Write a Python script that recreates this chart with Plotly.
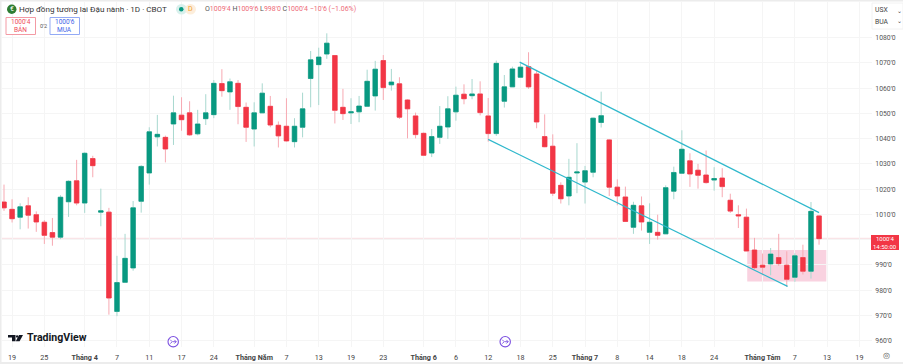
import plotly.graph_objects as go

opens = [1014.9,1012.0,1008.9,1013.4,1009.9,1006.9,1002.8,1001.0,1015.0,1023.3,1014.5,1032.1,1010.9,1010.9,971.6,983.1,988.8,1015.2,1026.4,1040.7,
         1040.5,1045.8,1049.3,1050.2,1041.9,1047.9,1049.5,1061.8,1058.5,1061.9,1052.4,1043.8,1050.2,1052.8,1045.3,1044.9,1038.8,1044.5,1063.8,1069.3,
         1073.5,1072.9,1052.4,1050.2,1050.6,1052.8,1056.9,1070.9,1061.3,1061.7,1055.3,1049.0,1042.1,1034.3,1040.5,1044.6,1050.6,1057.6,1057.0,1057.7,
         1049.0,1042.0,1054.8,1060.5,1064.3,1068.5,1065.6,1040.8,1037.0,1021.5,1017.3,1026.4,1022.8,1026.7,1046.4,1039.5,1020.8,1016.9,1004.9,1013.4,
         1002.9,1002.9,1002.3,1019.2,1026.3,1031.2,1027.5,1025.6,1023.6,1024.4,1015.6,1009.9,1008.9,995.9,989.9,990.4,992.9,989.9,985.1,992.9,987.5,1009.4]
highs = [1021.8,1016.0,1014.4,1016.8,1011.2,1007.7,1008.6,1017.6,1023.5,1031.6,1034.6,1033.2,1020.2,1012.6,993.6,1002.3,1015.3,1029.5,1044.5,1049.4,
         1041.2,1057.0,1056.4,1054.8,1051.4,1057.6,1063.2,1067.5,1063.8,1063.2,1054.3,1054.4,1061.9,1056.9,1046.8,1056.0,1048.1,1058.2,1074.7,1076.0,
         1081.7,1073.0,1059.7,1056.0,1056.9,1067.3,1070.8,1073.1,1067.6,1064.3,1055.6,1050.3,1042.4,1043.8,1052.9,1056.8,1060.6,1061.5,1063.6,1062.7,
         1056.1,1070.9,1065.2,1068.5,1069.8,1074.2,1067.2,1049.6,1041.7,1022.7,1032.0,1038.2,1029.2,1048.3,1058.6,1039.8,1023.9,1021.0,1015.0,1017.1,
         1014.4,1009.9,1021.5,1028.9,1043.3,1034.2,1030.0,1035.3,1028.7,1028.3,1018.2,1013.6,1012.3,1000.7,994.5,996.7,1002.3,995.4,994.6,998.0,1014.9,1009.6]
lows = [1011.4,1006.8,1004.1,1004.4,1003.1,998.3,997.6,1000.2,1009.0,1013.6,1010.6,1024.7,1005.3,970.3,969.7,983.1,987.7,1010.7,1021.8,1036.9,
        1030.6,1037.5,1043.1,1041.1,1041.3,1045.4,1048.1,1056.6,1051.4,1045.7,1038.7,1036.9,1050.2,1044.5,1036.5,1038.8,1036.5,1040.5,1052.4,1053.3,
        1071.6,1046.0,1047.4,1045.8,1046.5,1052.8,1051.1,1055.3,1059.0,1047.8,1040.1,1040.1,1033.1,1032.7,1037.9,1039.9,1047.1,1053.6,1055.6,1049.2,
        1038.8,1041.1,1052.3,1060.5,1064.3,1059.7,1044.1,1036.6,1017.3,1014.3,1013.6,1018.4,1014.3,1024.7,1044.4,1017.3,1013.6,1007.2,1002.3,1003.6,
        998.3,1000.0,1002.3,1016.0,1026.3,1020.9,1020.2,1022.2,1019.4,1016.8,1010.6,1004.6,995.5,988.3,985.9,985.9,989.6,981.3,983.3,986.2,984.6,998.0]
closes = [1012.6,1008.3,1013.0,1009.7,1007.0,1001.7,1001.0,1016.8,1023.1,1014.5,1034.2,1029.3,1011.4,976.9,983.0,992.6,1012.6,1029.0,1042.7,1041.7,
          1035.9,1050.2,1047.5,1041.5,1045.8,1050.2,1061.9,1059.0,1062.5,1052.7,1044.5,1050.2,1058.0,1045.4,1041.1,1039.1,1044.9,1051.8,1071.2,1072.3,
          1077.8,1051.2,1049.9,1050.6,1052.9,1062.7,1067.5,1060.2,1062.4,1048.5,1051.8,1041.6,1033.4,1040.8,1044.9,1051.8,1057.2,1055.8,1057.7,1050.3,
          1042.0,1069.8,1060.5,1067.6,1068.3,1060.5,1046.6,1036.8,1018.4,1016.2,1024.7,1026.8,1027.3,1048.1,1049.1,1020.8,1017.3,1007.2,1013.6,1007.0,
          1006.9,1001.7,1020.6,1026.6,1035.8,1026.0,1025.5,1022.6,1024.2,1021.0,1011.3,1009.4,995.5,988.9,989.1,994.3,990.5,984.3,993.6,987.5,1011.2,1000.4]
bar_index = list(range(len(opens)))

price_ticks = [960, 970, 980, 990, 1000, 1010, 1020, 1030, 1040, 1050, 1060, 1070, 1080]
price_labels = ["960'0", "970'0", "980'0", "990'0", "", "1010'0", "1020'0", "1030'0", "1040'0", "1050'0", "1060'0", "1070'0", "1080'0"]
time_ticks = [1, 5, 10, 14, 18, 22, 26, 31, 35, 39, 43, 47, 52, 56, 60, 64, 68, 72, 76, 80, 84, 88, 94, 98, 102, 106]
time_labels = ["19", "25", "<b>Tháng 4</b>", "7", "11", "17", "24", "<b>Tháng Năm</b>", "7", "13", "19", "23", "<b>Tháng 6</b>", "6", "12",
               "18", "25", "<b>Tháng 7</b>", "8", "14", "18", "24", "<b>Tháng Tám</b>", "7", "13", "19"]

last_price = 1000.4
upper_channel_x = [63.9, 101.0]
upper_channel_y = [1070.3, 1010.7]
lower_channel_x = [60.0, 97.1]
lower_channel_y = [1039.7, 981.5]
zone_x = [92.1, 101.9]
zone_y = [983.4, 995.9]

GREEN, RED = "#089981", "#f23645"
WICK_G, WICK_R = "#a8d8cf", "#f7a9b2"
FONT = "Roboto, Arial, sans-serif"

W, H = 903, 364
L, R, T, B = 2, 872, 2, 347
def px(x): return (x - L) / (R - L)
def py(y): return 1 - (y - T) / (B - T)
def poly(points, close=True):
    d = " ".join(("M" if i == 0 else "L") + f" {px(x)} {py(y)}" for i, (x, y) in enumerate(points))
    return d + (" Z" if close else "")

fig = go.Figure()
# wicks
fig.add_trace(go.Candlestick(
    x=bar_index, open=opens, high=highs, low=lows, close=closes, whiskerwidth=0,
    increasing=dict(line=dict(color=WICK_G, width=1), fillcolor=GREEN),
    decreasing=dict(line=dict(color=WICK_R, width=1), fillcolor=RED),
    showlegend=False, hoverinfo="skip"))
# solid bodies on top
fig.add_trace(go.Candlestick(
    x=bar_index, open=opens, close=closes,
    high=[max(o, c) for o, c in zip(opens, closes)],
    low=[min(o, c) for o, c in zip(opens, closes)], whiskerwidth=0,
    increasing=dict(line=dict(color=GREEN, width=0.6), fillcolor=GREEN),
    decreasing=dict(line=dict(color=RED, width=0.6), fillcolor=RED),
    showlegend=False, hoverinfo="skip"))
# channels
for xs, ys in ((upper_channel_x, upper_channel_y), (lower_channel_x, lower_channel_y)):
    fig.add_trace(go.Scatter(x=xs, y=ys, mode="lines", line=dict(color="#2fb8cc", width=1.2),
                             showlegend=False, hoverinfo="skip"))

PURPLE = "#7b4fe0"
def marker(cx, cy=341.7):
    return [
        dict(type="circle", xref="paper", yref="paper", x0=px(cx - 5.2), x1=px(cx + 5.2), y0=py(cy + 5.2), y1=py(cy - 5.2),
             fillcolor="white", line=dict(color=PURPLE, width=1.1)),
        dict(type="path", xref="paper", yref="paper", line=dict(color=PURPLE, width=0.9),
             path=poly([(cx - 3, cy - 2), (cx - 1, cy), (cx - 3, cy + 2)], close=False)),
        dict(type="path", xref="paper", yref="paper", line=dict(color=PURPLE, width=0.9),
             path=poly([(cx - 0.5, cy), (cx + 3, cy)], close=False)),
        dict(type="path", xref="paper", yref="paper", line=dict(color=PURPLE, width=0.9),
             path=poly([(cx + 1.2, cy - 1.8), (cx + 3, cy), (cx + 1.2, cy + 1.8)], close=False)),
    ]

shapes = [
    dict(type="rect", xref="x", yref="y", x0=zone_x[0], x1=zone_x[1], y0=zone_y[0], y1=zone_y[1],
         fillcolor="#f9d2e0", line_width=0, layer="below"),
    dict(type="line", xref="paper", yref="y", x0=0, x1=1, y0=last_price, y1=last_price,
         line=dict(color="#f9e4e7", width=2), layer="below"),
    # page edges
    dict(type="rect", xref="paper", yref="paper", x0=px(0), x1=px(1.5), y0=py(364), y1=py(0),
         fillcolor="#ececec", line_width=0),
    dict(type="rect", xref="paper", yref="paper", x0=px(0), x1=px(903), y0=py(1.5), y1=py(0),
         fillcolor="#ececec", line_width=0),
    dict(type="rect", xref="paper", yref="paper", x0=px(0), x1=px(903), y0=py(364), y1=py(362),
         fillcolor="#ececec", line_width=0),
    # sell / buy buttons
    dict(type="rect", xref="paper", yref="paper", x0=px(6), x1=px(35.5), y0=py(34.5), y1=py(17.5),
         fillcolor="white", line=dict(color="#f39aa4", width=1)),
    dict(type="rect", xref="paper", yref="paper", x0=px(50), x1=px(79.5), y0=py(34.5), y1=py(17.5),
         fillcolor="white", line=dict(color="#93aaf5", width=1)),
    # logo disc
    dict(type="circle", xref="paper", yref="paper", x0=px(7), x1=px(16.5), y0=py(14), y1=py(4.5),
         fillcolor="#2e7d32", line_width=0),
    # interval chips
    dict(type="circle", xref="paper", yref="paper", x0=px(176), x1=px(187), y0=py(14.5), y1=py(4),
         fillcolor="#d8f0ec", line_width=0),
    dict(type="circle", xref="paper", yref="paper", x0=px(185), x1=px(196), y0=py(14.5), y1=py(4),
         fillcolor="#fdeedb", line_width=0),
    dict(type="circle", xref="paper", yref="paper", x0=px(179), x1=px(183.5), y0=py(11.5), y1=py(7),
         fillcolor=GREEN, line_width=0),
    # TradingView glyph
    dict(type="path", xref="paper", yref="paper", fillcolor="#131722", line_width=0,
         path=poly([(8, 335), (15.5, 335), (15.5, 341.2), (12, 341.2), (12, 337.6), (8, 337.6)])),
    dict(type="path", xref="paper", yref="paper", fillcolor="#131722", line_width=0,
         path=poly([(19, 335), (23, 335), (19.6, 341.2), (15.8, 341.2)])),
    dict(type="circle", xref="paper", yref="paper", x0=px(15.9), x1=px(18.3), y0=py(337.6), y1=py(335.2),
         fillcolor="#131722", line_width=0),
    # top-right selectors
    dict(type="rect", xref="paper", yref="paper", x0=px(872), x1=px(903), y0=py(29), y1=py(3),
         fillcolor="white", line=dict(color="#f2f2f2", width=1)),
    # last price tag
    dict(type="rect", xref="paper", yref="paper", x0=px(871), x1=px(899), y0=py(250), y1=py(235),
         fillcolor=RED, line_width=0),
] + marker(173.2) + marker(505.2)

def note(x, y, text, size=7.5, color="#555555", anchor="left"):
    return dict(xref="paper", yref="paper", x=px(x), y=py(y), text=text, showarrow=False,
                xanchor=anchor, yanchor="middle", align=anchor,
                font=dict(family=FONT, size=size, color=color), borderpad=0)

annotations = [
    note(18, 9.5, "Hợp đồng tương lai Đậu nành · 1D · CBOT", 8.1, "#333333"),
    note(11.8, 9.5, "€", 7, "white", "center"),
    note(190.5, 9.5, "D", 7, "#f0a030", "center"),
    note(204, 9.5, "<span style='color:#555'>O</span>1009'4 <span style='color:#555'>H</span>1009'6 <span style='color:#555'>L</span>998'0 "
                   "<span style='color:#555'>C</span>1000'4 −10'6 (−1.06%)", 7, "#ee6a78"),
    note(20.7, 22, "1000'4", 6.5, "#ee4b5a", "center"),
    note(20.7, 29.5, "BÁN", 6.5, "#ee4b5a", "center"),
    note(43, 26, "0'2", 5.5, "#555555", "center"),
    note(64.7, 22, "1000'6", 6.5, "#3d63e8", "center"),
    note(64.7, 29.5, "MUA", 6.5, "#3d63e8", "center"),
    note(26, 337.8, "<b>TradingView</b>", 10.6, "#131722"),
    note(874, 10, "USX", 6.8, "#444444"),
    note(874, 22, "BUA", 6.8, "#444444"),
    note(896, 10, "⌄", 6, "#444444"),
    note(896, 21, "⌄", 6, "#444444"),
    note(885, 238.8, "1000'4", 6, "white", "center"),
    note(885, 246.3, "14:50:00", 6, "white", "center"),
    note(886, 355, "◎", 8, "#555555", "center"),
]

fig.update_layout(
    width=W, height=H, margin=dict(l=L, r=W - R, t=T, b=H - B, pad=0),
    paper_bgcolor="white", plot_bgcolor="white", boxgap=0.2, showlegend=False,
    shapes=shapes, annotations=annotations, dragmode=False,
    font=dict(family=FONT, size=7, color="#555555"),
    xaxis=dict(range=[-0.248, 107.56], rangeslider=dict(visible=False), tickmode="array",
               tickvals=time_ticks, ticktext=time_labels, showgrid=True, gridcolor="#f5f5f5", gridwidth=1,
               zeroline=False, showline=False, ticks="outside", ticklen=3, tickcolor="white",
               tickfont=dict(size=7.2, color="#444444", family=FONT)),
    yaxis=dict(range=[957.5, 1094.1], side="right", tickmode="array", tickvals=price_ticks, ticktext=price_labels,
               showgrid=True, gridcolor="#f5f5f5", gridwidth=1, zeroline=False, showline=False,
               ticks="outside", ticklen=1, tickcolor="white", tickfont=dict(size=6.8, color="#555555", family=FONT)),
)

fig.write_html("out.html", config=dict(displayModeBar=False, staticPlot=True),
               post_script="document.body.style.margin='0';")
